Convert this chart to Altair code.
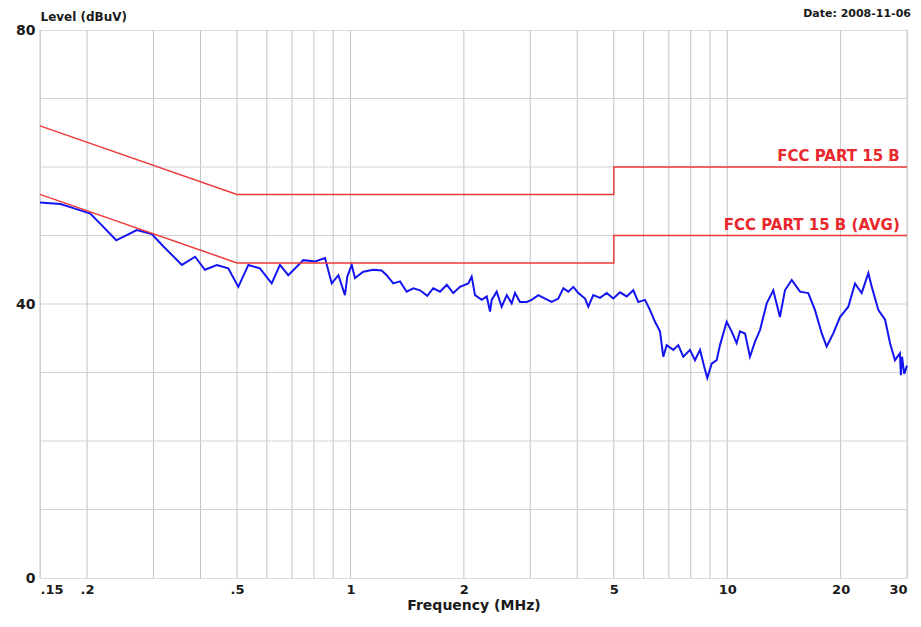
import altair as alt
import pandas as pd

trace_freq = [
    0.150, 0.170, 0.184, 0.204, 0.216, 0.239, 0.271, 0.297, 0.319, 0.357,
    0.387, 0.411, 0.442, 0.474, 0.504, 0.536, 0.575, 0.618, 0.650, 0.684,
    0.750, 0.806, 0.856, 0.892, 0.929, 0.967, 0.981, 1.008, 1.028, 1.082,
    1.150, 1.210, 1.248, 1.299, 1.354, 1.410, 1.468, 1.530, 1.599, 1.659,
    1.729, 1.802, 1.875, 1.953, 2.055, 2.098, 2.141, 2.231, 2.300, 2.347,
    2.371, 2.444, 2.520, 2.599, 2.679, 2.734, 2.819, 2.936, 3.027, 3.152,
    3.284, 3.420, 3.562, 3.673, 3.787, 3.905, 4.025, 4.194, 4.278, 4.411,
    4.596, 4.788, 4.985, 5.193, 5.410, 5.633, 5.807, 6.050, 6.239, 6.432,
    6.630, 6.766, 6.908, 7.191, 7.415, 7.646, 7.965, 8.211, 8.468, 8.730,
    8.853, 9.094, 9.376, 9.567, 9.967, 10.27, 10.59, 10.81, 11.15, 11.49,
    11.85, 12.22, 12.73, 13.25, 13.80, 14.23, 14.83, 15.60, 16.41, 17.10,
    17.82, 18.36, 19.12, 19.92, 20.96, 21.83, 22.74, 23.69, 24.19, 25.19,
    26.24, 27.04, 27.87, 28.73, 28.90, 29.10, 29.50, 30.00,
]
trace_level = [
    54.8, 54.6, 54.0, 53.2, 51.8, 49.3, 50.8, 50.2, 48.4, 45.7,
    46.9, 45.0, 45.7, 45.2, 42.5, 45.7, 45.2, 43.0, 45.7, 44.2,
    46.4, 46.2, 46.7, 43.0, 44.2, 41.3, 44.0, 45.7, 43.8, 44.7,
    45.0, 44.9, 44.2, 43.0, 43.3, 41.8, 42.3, 42.0, 41.2, 42.3,
    41.8, 42.8, 41.6, 42.5, 43.0, 44.0, 41.3, 40.6, 41.1, 38.9,
    40.6, 41.8, 39.6, 41.3, 40.1, 41.6, 40.3, 40.3, 40.6, 41.3,
    40.8, 40.3, 40.8, 42.3, 41.8, 42.5, 41.6, 40.8, 39.6, 41.3,
    40.9, 41.6, 40.8, 41.7, 41.1, 42.0, 40.3, 40.6, 39.1, 37.4,
    36.0, 32.3, 34.0, 33.3, 34.0, 32.3, 33.3, 31.8, 33.3, 30.4,
    29.2, 31.3, 31.8, 34.0, 37.4, 36.0, 34.3, 36.0, 35.7, 32.3,
    34.5, 36.2, 40.1, 42.0, 38.1, 42.0, 43.5, 41.8, 41.6, 39.1,
    35.7, 33.8, 35.7, 38.1, 39.6, 43.0, 41.6, 44.5, 42.5, 39.1,
    37.7, 34.3, 31.8, 32.8, 29.6, 32.3, 29.8, 31.0,
]

# ---- limit lines ----
qp_freq = [0.15, 0.5, 5, 5, 30]
qp_level = [66, 56, 56, 60, 60]
avg_freq = [0.15, 0.5, 5, 5, 30]
avg_level = [56, 46, 46, 50, 50]

limit_labels = ["FCC PART 15 B", "FCC PART 15 B (AVG)"]
label_freq = [28.7, 28.7]
label_level = [60, 50]

# ---- axes ----
x_tick_values = [0.15, 0.2, 0.5, 1, 2, 5, 10, 20, 30]
x_grid_values = [0.15, 0.2, 0.3, 0.4, 0.5, 0.6, 0.7, 0.8, 0.9, 1,
                 2, 3, 4, 5, 6, 7, 8, 9, 10, 20, 30]
y_tick_values = [0, 40, 80]
y_grid_values = [10, 20, 30, 40, 50, 60, 70]

FONT = "DejaVu Sans"
TXT = "#1a1a1a"

trace_df = pd.DataFrame({"freq": trace_freq, "level": trace_level})
limit_df = pd.concat([
    pd.DataFrame({"freq": qp_freq, "level": qp_level, "series": "QP", "idx": range(len(qp_freq))}),
    pd.DataFrame({"freq": avg_freq, "level": avg_level, "series": "AVG", "idx": range(len(avg_freq))}),
])
label_df = pd.DataFrame({"freq": label_freq, "level": label_level, "label": limit_labels})
xgrid_df = pd.DataFrame({"freq": x_grid_values})
ygrid_df = pd.DataFrame({"level": y_grid_values})

x_enc = alt.X(
    "freq:Q",
    scale=alt.Scale(type="log", domain=[0.15, 30], nice=False),
    axis=alt.Axis(
        values=x_tick_values,
        labelExpr="datum.value < 1 ? slice(toString(datum.value), 1) : toString(datum.value)",
        labelAlign={"condition": [
            {"test": "datum.value < 0.16", "value": "left"},
            {"test": "datum.value > 29", "value": "right"},
        ], "value": "center"},
        grid=False, ticks=False, domain=False,
        labelFont=FONT, labelFontSize=13, labelFontWeight="bold", labelColor=TXT,
        labelPadding=5,
        title="Frequency (MHz)", titleFont=FONT, titleFontSize=14, titleFontWeight="bold",
        titleColor=TXT, titlePadding=2,
    ),
)
y_enc = alt.Y(
    "level:Q",
    scale=alt.Scale(domain=[0, 80], nice=False),
    axis=alt.Axis(
        values=y_tick_values,
        grid=False, ticks=False, domain=False,
        labelFont=FONT, labelFontSize=14, labelFontWeight="bold", labelColor=TXT,
        labelPadding=5,
        title="Level (dBuV)", titleFont=FONT, titleFontSize=12, titleFontWeight="bold",
        titleColor=TXT, titleAngle=0, titleX=0, titleY=-7,
        titleAlign="left", titleBaseline="bottom",
    ),
)

vgrid = alt.Chart(xgrid_df).mark_rule(color="#c4c4c4", strokeWidth=1).encode(x=x_enc)
hgrid = alt.Chart(ygrid_df).mark_rule(color="#d2d2d2", strokeWidth=1).encode(y=y_enc)

trace = alt.Chart(trace_df).mark_line(color="#1414f0", strokeWidth=2).encode(
    x=x_enc, y=y_enc, order="freq:Q"
)

limits = alt.Chart(limit_df).mark_line(color="#ec3a3a", strokeWidth=1.5).encode(
    x=x_enc, y=y_enc, detail="series:N", order="idx:Q"
)

labels = alt.Chart(label_df).mark_text(
    align="right", baseline="bottom", dy=-3, color="#e8282d",
    font=FONT, fontSize=15, fontWeight="bold",
).encode(x=x_enc, y=y_enc, text="label:N")

chart = alt.layer(vgrid, hgrid, trace, limits, labels).properties(
    width=867,
    height=548,
    padding={"left": 32, "top": 22, "right": 6, "bottom": 36},
    autosize=alt.AutoSizeParams(type="none"),
    title=alt.TitleParams(
        "Date: 2008-11-06", anchor="end", font=FONT, fontSize=11,
        fontWeight="bold", color=TXT, offset=6, dy=15,
    ),
).configure_view(stroke="#444444", strokeWidth=2).configure(background="white")

chart.save("out.html", embed_options={"renderer": "svg", "actions": False})
